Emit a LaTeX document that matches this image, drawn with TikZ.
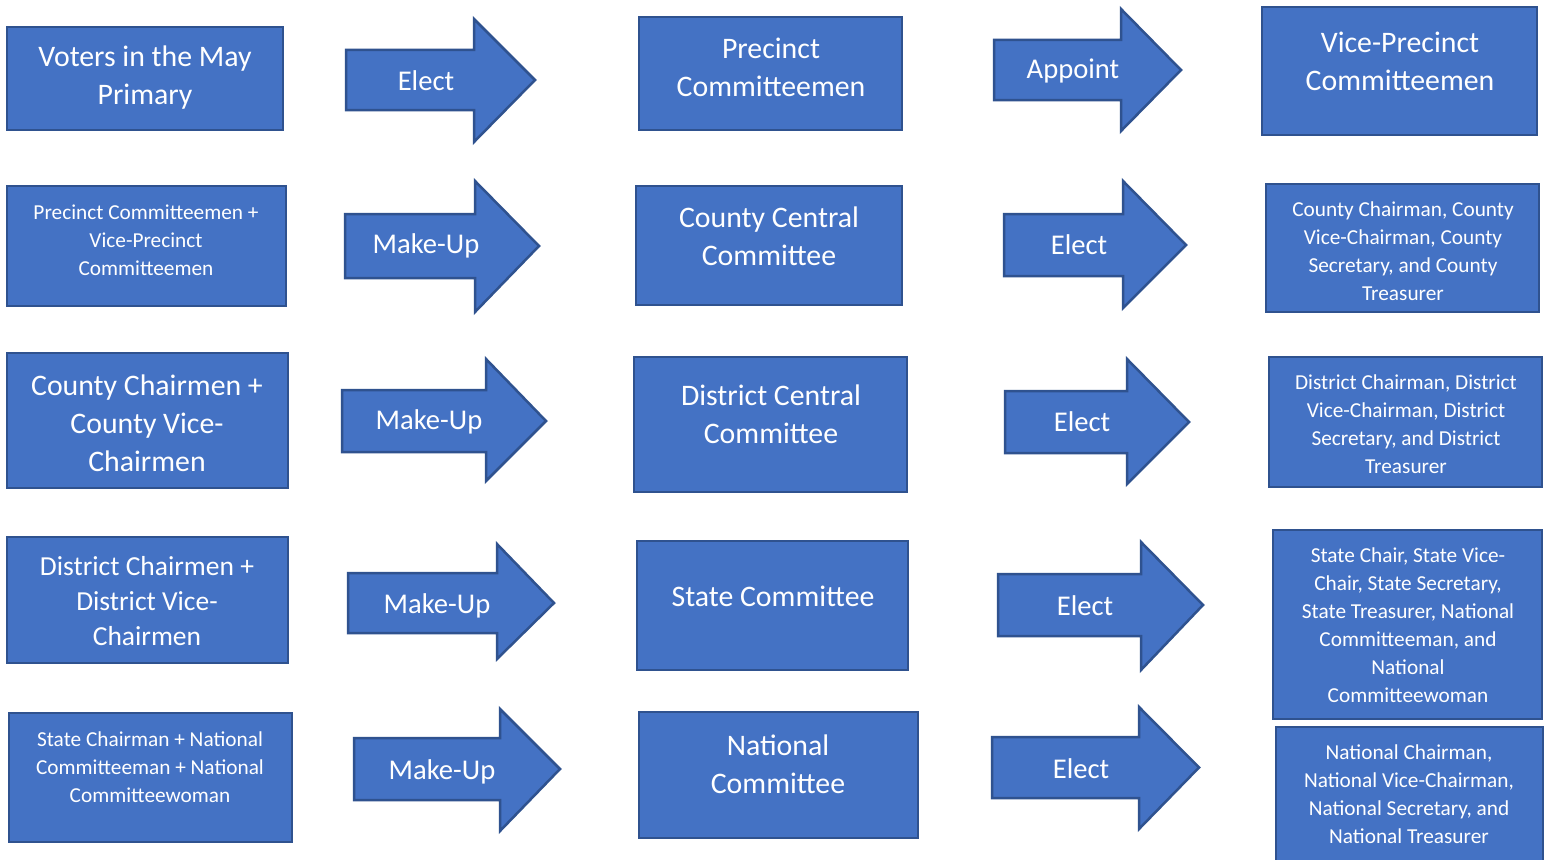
\documentclass[tikz,border=0pt]{standalone}
\usepackage{fontspec}
\setmainfont{Carlito}
\definecolor{boxfill}{HTML}{4472C4}
\definecolor{boxline}{HTML}{2F528F}
\tikzset{
  shapebox/.style={fill=boxfill, draw=boxline, line width=2.5pt},
  big/.style={text=white, align=center, font=\fontsize{29.8}{38}\selectfont},
  bigb/.style={text=white, align=center, font=\fontsize{27.5}{35}\selectfont},
  small/.style={text=white, align=center, font=\fontsize{21.3}{28}\selectfont},
  arrlabel/.style={text=white, font=\fontsize{28.6}{34}\selectfont},
}
% \myarrow{name}{x0}{xh}{tip x}{body top}{body bottom}{head top}{head bottom}
\newcommand{\myarrow}[8]{%
  \pgfmathsetmacro{\midy}{(#5+#6)/2}%
  \draw[shapebox] (#2,#5) -- (#3,#5) -- (#3,#7) -- (#4,\midy) -- (#3,#8) -- (#3,#6) -- (#2,#6) -- cycle;
  \coordinate (#1) at (#4,\midy);
}
\begin{document}
\begin{tikzpicture}[x=1pt,y=-1pt]
\useasboundingbox (0,0) rectangle (1544,859);
\fill[white] (0,0) rectangle (1544,859);

% Row 1
\draw[shapebox] (7,27) rectangle (283,130);
\node[big] (a1) at (145,77.5) {Voters in the May\\Primary};
\myarrow{ar1a}{346}{474}{535}{50}{110}{19}{142}
\node[arrlabel] (l1a) at (426,81) {Elect};
\draw[shapebox] (639,17) rectangle (902,130);
\node[big] (b1) at (771,67.5) {Precinct\\Committeemen};
\myarrow{ar1b}{994}{1121}{1181}{40}{100}{9}{131}
\node[arrlabel] (l1b) at (1073,71) {Appoint};
\draw[shapebox] (1262,7) rectangle (1537,135);
\node[big] (c1) at (1400,61.5) {Vice-Precinct\\Committeemen};

% Row 2
\draw[shapebox] (7,186) rectangle (286,306);
\node[small] (a2) at (146,240.5) {Precinct Committeemen +\\Vice-Precinct\\Committeemen};
\myarrow{ar2a}{345}{475}{539}{214}{278}{181}{312}
\node[arrlabel] (l2a) at (426,246) {Make-Up};
\draw[shapebox] (636,186) rectangle (902,305);
\node[big] (b2) at (769,236) {County Central\\Committee};
\myarrow{ar2b}{1004}{1123}{1186}{214}{276}{181}{308}
\node[arrlabel] (l2b) at (1079,245) {Elect};
\draw[shapebox] (1266,184) rectangle (1539,312);
\node[small] (c2) at (1403,251.5) {County Chairman, County\\Vice-Chairman, County\\Secretary, and County\\Treasurer};

% Row 3
\draw[shapebox] (7,353) rectangle (288,488);
\node[big] (a3) at (147,423) {County Chairmen +\\County Vice-\\Chairmen};
\myarrow{ar3a}{342}{486}{546}{390}{452}{359}{481}
\node[arrlabel] (l3a) at (429,421.5) {Make-Up};
\draw[shapebox] (634,357) rectangle (907,492);
\node[big] (b3) at (771,414.5) {District Central\\Committee};
\myarrow{ar3b}{1005}{1127}{1189}{391}{453}{359}{484}
\node[arrlabel] (l3b) at (1082,422) {Elect};
\draw[shapebox] (1269,357) rectangle (1542,487);
\node[small] (c3) at (1406,424.5) {District Chairman, District\\Vice-Chairman, District\\Secretary, and District\\Treasurer};

% Row 4
\draw[shapebox] (7,537) rectangle (288,663);
\node[bigb] (a4) at (147,601.5) {District Chairmen +\\District Vice-\\Chairmen};
\myarrow{ar4a}{348}{497}{554}{573}{633}{544}{659}
\node[arrlabel] (l4a) at (437,605.5) {Make-Up};
\draw[shapebox] (637,541) rectangle (908,670);
\node[big] (b4) at (773,596) {State Committee};
\myarrow{ar4b}{998}{1141}{1203}{574}{636}{542}{670}
\node[arrlabel] (l4b) at (1085,606) {Elect};
\draw[shapebox] (1273,530) rectangle (1542,719);
\node[small] (c4) at (1408,625.5) {State Chair, State Vice-\\Chair, State Secretary,\\State Treasurer, National\\Committeeman, and\\National\\Committeewoman};

% Row 5
\draw[shapebox] (9,713) rectangle (292,842);
\node[small] (a5) at (150,767.5) {State Chairman + National\\Committeeman + National\\Committeewoman};
\myarrow{ar5a}{354}{500}{560}{738}{800}{709}{831}
\node[arrlabel] (l5a) at (442,771.5) {Make-Up};
\draw[shapebox] (639,712) rectangle (918,838);
\node[big] (b5) at (778,764.5) {National\\Committee};
\myarrow{ar5b}{992}{1139}{1199}{737}{798}{707}{829}
\node[arrlabel] (l5b) at (1081,769) {Elect};
\draw[shapebox] (1276,727) rectangle (1543,880);
\node[small] (c5) at (1409,794.5) {National Chairman,\\National Vice-Chairman,\\National Secretary, and\\National Treasurer};
\end{tikzpicture}
\end{document}
